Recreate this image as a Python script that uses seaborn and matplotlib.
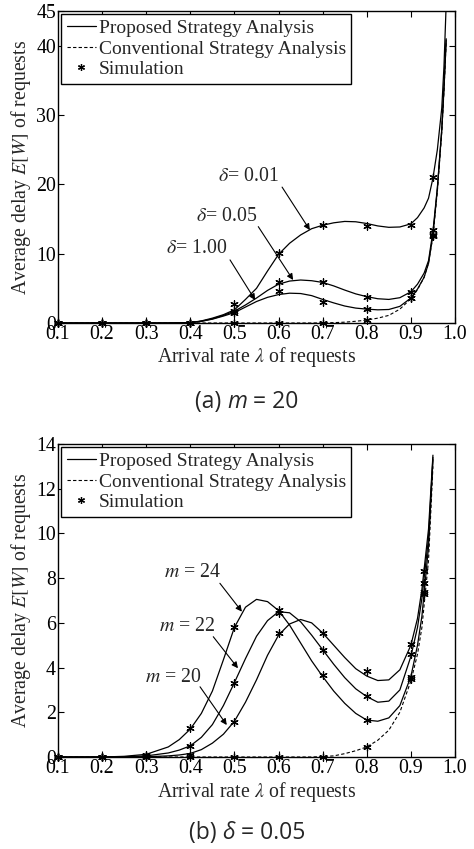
import numpy as np
import pandas as pd
import matplotlib
matplotlib.use("Agg")
import matplotlib.pyplot as plt
from matplotlib.lines import Line2D
import seaborn as sns

# ---------------- data: panel (a), m = 20 ----------------
a_x = [0.1, 0.2, 0.3, 0.35, 0.4, 0.425, 0.45, 0.475, 0.5, 0.525, 0.55, 0.575, 0.6,
       0.625, 0.65, 0.675, 0.7, 0.725, 0.75, 0.775, 0.8, 0.825, 0.85, 0.875, 0.9,
       0.915, 0.93, 0.94, 0.95, 0.96, 0.97, 0.975, 0.98]
a_d001 = [0, 0, 0, 0, 0.05, 0.3, 0.7, 1.2, 1.9, 3.4, 5.0, 7.5, 9.9,
          11.5, 12.7, 13.6, 14.1, 14.45, 14.65, 14.6, 14.35, 14.0, 13.8, 13.85, 14.3,
          15.2, 16.6, 18.0, 20.9, 25.0, 31.0, 37.0, 46.0]
a_d005 = [0, 0, 0, 0, 0.05, 0.25, 0.6, 1.1, 1.7, 2.6, 3.6, 4.7, 5.6,
          6.05, 6.2, 6.1, 5.85, 5.35, 4.75, 4.2, 3.8, 3.5, 3.4, 3.65, 4.5,
          5.6, 7.2, 9.0, 13.2, 19.5, 28.0, 34.0, 41.0]
a_d100 = [0, 0, 0, 0, 0.05, 0.25, 0.55, 1.0, 1.5, 2.3, 3.1, 3.7, 4.1,
          4.3, 4.25, 3.95, 3.4, 2.9, 2.45, 2.15, 2.0, 1.9, 1.95, 2.4, 3.6,
          4.9, 6.6, 8.6, 12.7, 19.3, 27.8, 33.8, 40.8]
a_conv = [0, 0, 0, 0, 0, 0, 0, 0, 0, 0, 0, 0, 0,
          0, 0, 0, 0.02, 0.05, 0.12, 0.25, 0.42, 0.7, 1.1, 2.0, 3.5,
          4.8, 6.6, 8.7, 12.5, 19.0, 27.5, 33.5, 40.5]

a_sim_x = [0.1, 0.2, 0.3, 0.4, 0.5, 0.6, 0.7, 0.8, 0.9, 0.95]
a_sim_d001 = [0, 0, 0, 0, 2.7, 10.1, 14.1, 14.0, 14.1, 21.1]
a_sim_d005 = [0, 0, 0, 0, 1.8, 5.96, 5.87, 3.8, 4.5, 13.4]
a_sim_d100 = [0, 0, 0, 0, 1.4, 4.6, 3.1, 2.0, 3.65, 12.7]
a_sim_conv = [0, 0, 0, 0, 0, 0, 0, 0.45, 3.55, 12.5]

# ---------------- data: panel (b), delta = 0.05 ----------------
b_x = [0.1, 0.2, 0.25, 0.3, 0.35, 0.375, 0.4, 0.425, 0.45, 0.475, 0.5, 0.525, 0.55, 0.575,
       0.6, 0.625, 0.65, 0.675, 0.7, 0.725, 0.75, 0.775, 0.8, 0.825, 0.85, 0.875,
       0.9, 0.915, 0.925, 0.94, 0.95]
b_m24 = [0, 0, 0.03, 0.12, 0.45, 0.78, 1.25, 1.95, 2.95, 4.35, 5.8, 6.7, 7.05, 6.95,
         6.55, 5.9, 5.1, 4.3, 3.6, 2.95, 2.4, 1.95, 1.65, 1.6, 1.75, 2.3,
         3.6, 5.0, 6.3, 9.4, 13.3]
b_m22 = [0, 0, 0.01, 0.05, 0.18, 0.31, 0.5, 0.88, 1.45, 2.3, 3.33, 4.4, 5.4, 6.1,
         6.5, 6.45, 6.05, 5.45, 4.8, 4.15, 3.55, 3.05, 2.7, 2.45, 2.5, 3.0,
         4.5, 5.8, 7.1, 9.8, 13.4]
b_m20 = [0, 0, 0, 0.01, 0.05, 0.09, 0.16, 0.33, 0.62, 1.02, 1.6, 2.45, 3.45, 4.55,
         5.45, 5.95, 6.15, 6.0, 5.55, 5.0, 4.45, 3.95, 3.62, 3.42, 3.45, 3.9,
         5.0, 6.2, 7.5, 10.2, 13.5]
b_conv = [0, 0, 0, 0, 0, 0, 0, 0, 0, 0, 0, 0, 0, 0,
          0, 0, 0, 0, 0.02, 0.05, 0.15, 0.28, 0.45, 0.75, 1.2, 2.0,
          3.4, 4.6, 5.8, 8.8, 13.0]

b_sim_x = [0.1, 0.2, 0.3, 0.4, 0.5, 0.6, 0.7, 0.8, 0.9, 0.93]
b_sim_m24 = [0, 0, 0.1, 1.28, 5.83, 6.58, 3.67, 1.65, 3.6, 7.4]
b_sim_m22 = [0, 0, 0.05, 0.5, 3.33, 6.46, 4.79, 2.73, 4.6, 7.8]
b_sim_m20 = [0, 0, 0, 0.1, 1.58, 5.53, 5.56, 3.85, 5.04, 8.34]
b_sim_conv = [0, 0, 0, 0, 0, 0, 0, 0.45, 3.5, 7.3]

x_ticks = [0.1, 0.2, 0.3, 0.4, 0.5, 0.6, 0.7, 0.8, 0.9, 1.0]
a_yticks = [0, 10, 20, 30, 40, 45]
b_yticks = [0, 2, 4, 6, 8, 10, 12, 14]

legend_labels = ["Proposed Strategy Analysis", "Conventional Strategy Analysis", "Simulation"]

# ---------------- style ----------------
sns.set_theme(style="white")
plt.rcParams["font.family"] = ["Liberation Serif", "DejaVu Serif"]
plt.rcParams["mathtext.fontset"] = "stix"
plt.rcParams["axes.edgecolor"] = "black"
plt.rcParams["axes.linewidth"] = 1.0

FS = 14.3
LEG_FS = 14.0
STAR = (6, 2, 0)

fig = plt.figure(figsize=(4.74, 8.49), dpi=100)
ax_a = fig.add_axes([58 / 474, 1 - 323 / 849, 397 / 474, 312 / 849])
ax_b = fig.add_axes([58 / 474, 1 - 757 / 849, 397 / 474, 313 / 849])


def draw(ax, x, curves, conv, sx, sims, sconv):
    for c in curves:
        df = pd.DataFrame({"x": x, "y": c})
        sns.lineplot(data=df, x="x", y="y", ax=ax, color="black", lw=0.9,
                     estimator=None, sort=False, legend=False)
    dfc = pd.DataFrame({"x": x, "y": conv})
    sns.lineplot(data=dfc, x="x", y="y", ax=ax, color="black", lw=0.8,
                 linestyle=(0, (3, 2)), estimator=None, sort=False, legend=False)
    for s in sims + [sconv]:
        dfs = pd.DataFrame({"x": sx, "y": s})
        sns.scatterplot(data=dfs, x="x", y="y", ax=ax, marker=STAR, s=28,
                        color="black", edgecolor="black", linewidth=0.9,
                        legend=False, clip_on=False, zorder=5)


def style(ax, yticks, ylim):
    ax.set_xlim(0.1, 1.0)
    ax.set_ylim(*ylim)
    ax.set_xticks(x_ticks)
    ax.set_xticklabels([f"{t:.1f}" for t in x_ticks])
    ax.set_yticks(yticks)
    ax.set_yticklabels([str(t) for t in yticks])
    ax.tick_params(direction="in", length=4, width=0.8, top=True, right=True,
                   bottom=True, left=True, labelsize=FS, pad=1.5, colors="black")
    for sp in ax.spines.values():
        sp.set_visible(True)
        sp.set_color("black")
        sp.set_linewidth(1.0)
    ax.set_xlabel(r"Arrival rate $\lambda$ of requests", fontsize=FS, labelpad=0)
    ax.set_ylabel(r"Average delay $E[W]$ of requests", fontsize=FS, labelpad=2)
    ax.xaxis.set_label_coords(0.5, -0.072)
    ax.yaxis.set_label_coords(-0.062, 0.5)
    handles = [Line2D([], [], color="black", lw=0.9),
               Line2D([], [], color="black", lw=0.8, linestyle=(0, (3, 2))),
               Line2D([], [], color="black", lw=0, marker=STAR, markersize=5,
                      markeredgewidth=0.9)]
    leg = ax.legend(handles, legend_labels, loc="upper left",
                    bbox_to_anchor=(0.008, 0.99), fontsize=LEG_FS, frameon=True,
                    fancybox=False, edgecolor="black", framealpha=1,
                    handlelength=1.5, handletextpad=0.15, labelspacing=0.15,
                    borderpad=0.28, borderaxespad=0.0)
    leg.get_frame().set_linewidth(1.0)


draw(ax_a, a_x, [a_d001, a_d005, a_d100], a_conv, a_sim_x,
     [a_sim_d001, a_sim_d005, a_sim_d100], a_sim_conv)
style(ax_a, a_yticks, (0, 45))

draw(ax_b, b_x, [b_m24, b_m22, b_m20], b_conv, b_sim_x,
     [b_sim_m24, b_sim_m22, b_sim_m20], b_sim_conv)
style(ax_b, b_yticks, (0, 14))

arrow = dict(arrowstyle="-|>", color="black", lw=0.8, mutation_scale=9,
             shrinkA=0, shrinkB=0)

# annotations panel (a)
for txt, tpos, start, tip in [
    (r"$\delta$= 0.01", (0.531, 21.2), (0.608, 19.6), (0.671, 13.4)),
    (r"$\delta$= 0.05", (0.483, 15.4), (0.554, 13.9), (0.633, 6.2)),
    (r"$\delta$= 1.00", (0.415, 10.7), (0.490, 9.1), (0.547, 3.3)),
]:
    ax_a.text(*tpos, txt, fontsize=FS, ha="center", va="center")
    ax_a.annotate("", xy=tip, xytext=start, arrowprops=arrow)

# annotations panel (b)
for txt, tpos, start, tip in [
    (r"$m$ = 24", (0.404, 8.24), (0.467, 7.77), (0.517, 6.5)),
    (r"$m$ = 22", (0.392, 5.83), (0.452, 5.38), (0.508, 3.97)),
    (r"$m$ = 20", (0.361, 3.56), (0.422, 3.14), (0.4826, 1.43)),
]:
    ax_b.text(*tpos, txt, fontsize=FS, ha="center", va="center")
    ax_b.annotate("", xy=tip, xytext=start, arrowprops=arrow)

# captions: composed of pieces (regular / italic sans)
cap_font = ["Open Sans", "DejaVu Sans"]
CAP_FS = 16.5
renderer = fig.canvas.get_renderer()


def caption(cx, cy, pieces):
    texts = []
    for s, st in pieces:
        t = fig.text(0, 1 - cy / 849, s, fontsize=CAP_FS, ha="left", va="center",
                     family=cap_font, style=st)
        texts.append(t)
    widths = [t.get_window_extent(renderer).width for t in texts]
    total = sum(widths)
    x = cx - total / 2
    for t, w in zip(texts, widths):
        t.set_x(x / 474)
        x += w


caption(247, 402, [("(a) ", "normal"), ("m", "italic"), (" = 20", "normal")])
caption(247, 833, [("(b) ", "normal"), ("δ", "italic"), (" = 0.05", "normal")])

fig.savefig("out.png", dpi=100)
